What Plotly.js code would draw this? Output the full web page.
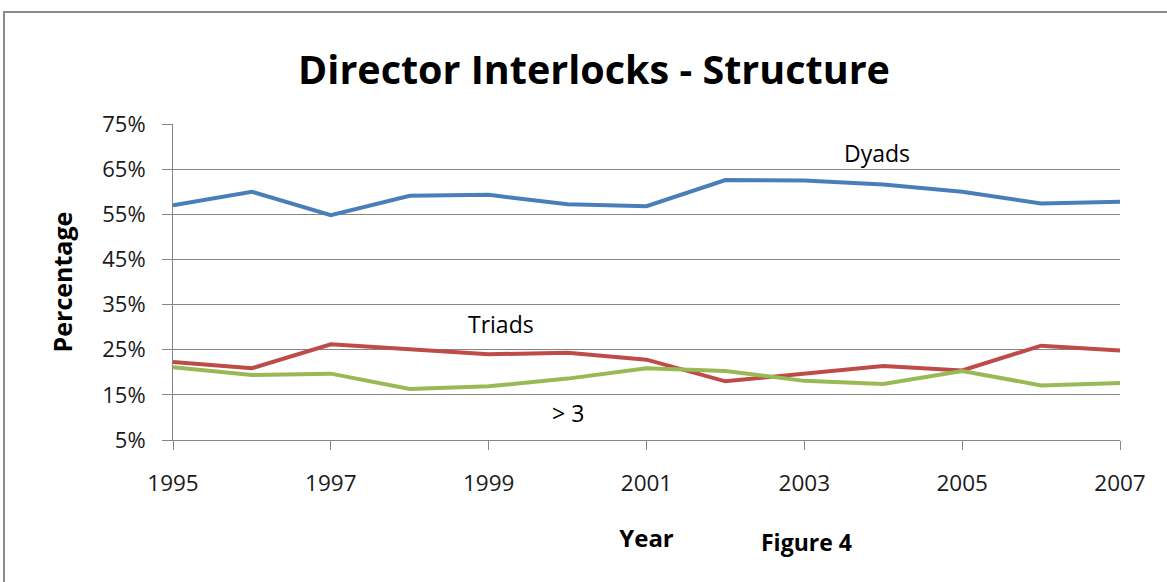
<!DOCTYPE html>
<html>
<head>
<meta charset="utf-8">
<script src="https://cdn.plot.ly/plotly-3.0.1.min.js"></script>
<style>
html,body{margin:0;padding:0;background:#fff;}
#wrap{position:relative;width:1167px;height:582px;overflow:hidden;}
#chart{width:1167px;height:582px;}
#frame{position:absolute;left:3px;top:11px;width:1200px;height:700px;border:2px solid #8c8c8c;pointer-events:none;box-sizing:border-box;}
</style>
</head>
<body>
<div id="wrap"><div id="chart"></div><div id="frame"></div></div>
<script>
const years = [1995,1996,1997,1998,1999,2000,2001,2002,2003,2004,2005,2006,2007];
const dyads = [57.0,60.0,54.8,59.1,59.3,57.2,56.8,62.6,62.5,61.6,60.0,57.4,57.8];
const triads = [22.3,20.9,26.2,25.1,24.0,24.3,22.8,18.0,19.6,21.4,20.4,25.9,24.8];
const over3 = [21.1,19.4,19.7,16.3,16.9,18.6,20.9,20.3,18.1,17.4,20.3,17.1,17.6];
const yTicks = [5,15,25,35,45,55,65,75];
const yTickLabels = ["5%","15%","25%","35%","45%","55%","65%","75%"];
const xTicks = [1995,1997,1999,2001,2003,2005,2007];

const FONT = "'Open Sans', sans-serif";
const mk = (y, color) => ({x: years, y: y, type: 'scatter', mode: 'lines',
  line: {color: color, width: 4}, hoverinfo: 'skip'});

const data = [mk(dyads,'#4A7EBB'), mk(triads,'#BE4B48'), mk(over3,'#98B954')];

const layout = {
  width: 1167, height: 582,
  margin: {l: 173, r: 47, t: 124, b: 142},
  paper_bgcolor: '#fff', plot_bgcolor: '#fff',
  showlegend: false,
  font: {family: FONT, color: '#000'},
  title: {text: '<b>Director Interlocks - Structure</b>', font: {size: 39.5, family: FONT, color: '#000'},
    x: 594/1167, xanchor: 'center', y: 1 - 70/582, yanchor: 'middle'},
  xaxis: {range: [1995, 2007], tickvals: xTicks, ticktext: xTicks.map(String),
    showgrid: false, zeroline: false, showline: true, linecolor: '#868686', linewidth: 1,
    ticks: 'outside', ticklen: 9, tickcolor: '#868686', ticklabelstandoff: 14,
    tickfont: {size: 22.5, family: FONT, color: '#1a1a1a'},
    title: {text: '<b>Year</b>', font: {size: 24, family: FONT, color: '#000'}, standoff: 33}},
  yaxis: {range: [5, 75], tickvals: yTicks, ticktext: yTickLabels,
    showgrid: true, gridcolor: '#868686', gridwidth: 1, zeroline: false,
    showline: true, linecolor: '#868686', linewidth: 1,
    ticks: 'outside', ticklen: 10, tickcolor: '#868686', ticklabelstandoff: 12,
    tickfont: {size: 22, family: FONT, color: '#1a1a1a'},
    title: {text: '<b>Percentage</b>', font: {size: 25, family: FONT, color: '#000'}, standoff: 22}},
  annotations: [
    {x: 2003.92, y: 68.6, xref: 'x', yref: 'y', text: 'Dyads', showarrow: false, font: {size: 23, family: FONT, color: '#000'}},
    {x: 1999.15, y: 30.8, xref: 'x', yref: 'y', text: 'Triads', showarrow: false, font: {size: 23, family: FONT, color: '#000'}},
    {x: 2000.0, y: 10.9, xref: 'x', yref: 'y', text: '> 3', showarrow: false, font: {size: 23, family: FONT, color: '#000'}},
    {x: (806.5-173)/947, y: -(542-440)/316, xref: 'paper', yref: 'paper', xanchor: 'center', yanchor: 'middle',
      text: '<b>Figure 4</b>', showarrow: false, font: {size: 23, family: FONT, color: '#000'}}
  ]
};
Plotly.newPlot('chart', data, layout, {staticPlot: true, displayModeBar: false});
</script>
</body>
</html>
